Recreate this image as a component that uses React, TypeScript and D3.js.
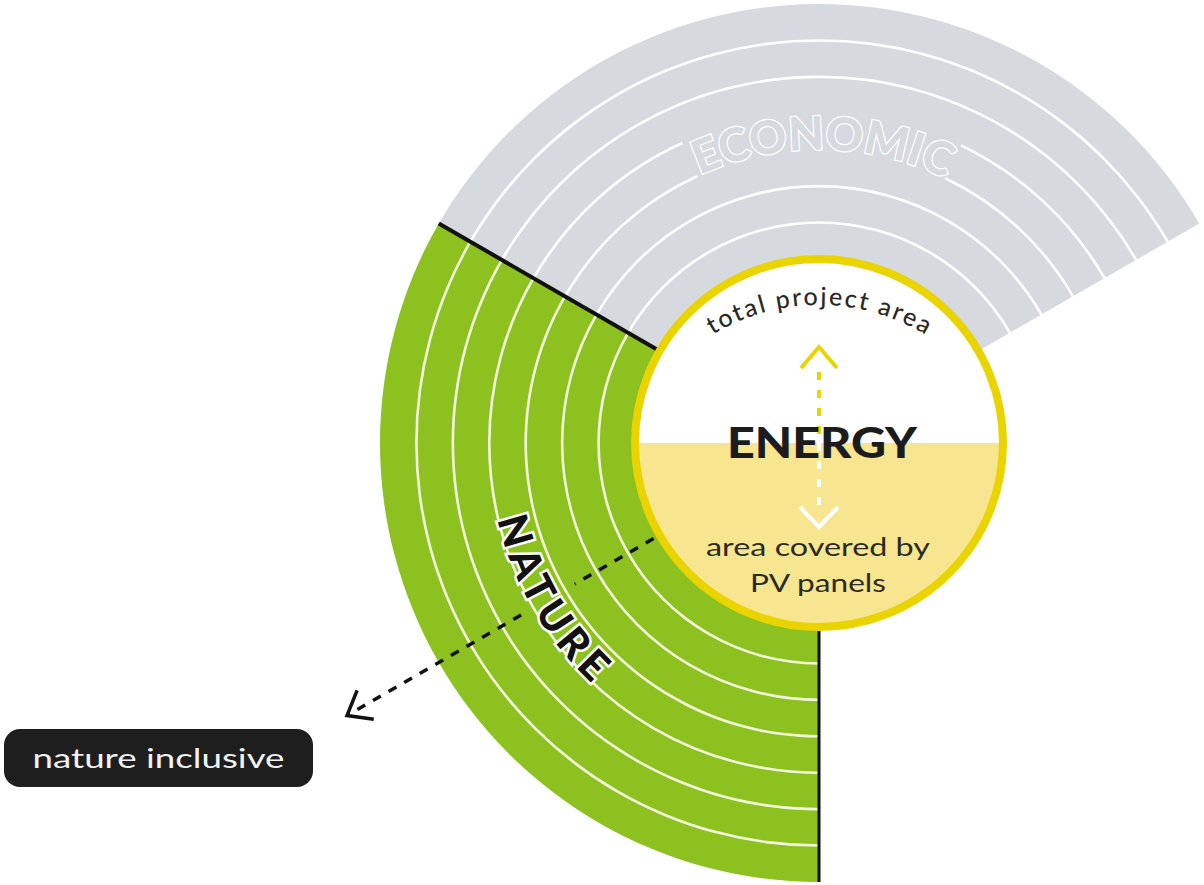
import React from "react";
import * as d3 from "d3";

const WIDTH = 1204;
const HEIGHT = 885;

// ---- data ----
const sectorNames = ["ECONOMIC", "NATURE"];
const sectorStartDeg = [-60, 180];
const sectorEndDeg = [60, 300];
const ringCount = 7;
const ringLines = [1, 2, 3, 4, 5, 6];
const circleTopLabel = "total project area";
const circleTitle = "ENERGY";
const circleBottomLines = ["area covered by", "PV panels"];
const pointerLabel = "nature inclusive";
const pointerDeg = 240;

// ---- layout / style ----
const cx = 819;
const cy = 443;
const innerR = 184;
const outerR = 439;
const GRAY = "#d6d9dd";
const GREEN = "#8cc11f";
const YELLOW = "#ead400";
const PALE = "#f7e58f";
const DARK = "#2b2a22";
const FONT = "Lato, 'Open Sans', sans-serif";

const rad = (d: number) => (d * Math.PI) / 180;
const rScale = d3.scaleLinear().domain([0, ringCount]).range([innerR, outerR]);
const sectorFill: Record<string, string> = { ECONOMIC: GRAY, NATURE: GREEN };
const lineFill: Record<string, string> = { ECONOMIC: "#ffffff", NATURE: "#f3f9dc" };
// angular gap in the ECONOMIC rings around its label
const econGap = [-24.5, 25.5];

function arcPath(r0: number, r1: number, a0: number, a1: number) {
  return d3.arc()({ innerRadius: r0, outerRadius: r1, startAngle: rad(a0), endAngle: rad(a1) }) as string;
}

// text path along circle; d3 angles (0 = up, clockwise)
function circlePath(x: number, y: number, r: number, a0: number, a1: number, ccw: boolean) {
  const p = d3.path();
  const s = d3.pointRadial(rad(a0), r);
  p.moveTo(x + s[0], y + s[1]);
  p.arc(x, y, r, rad(a0) - Math.PI / 2, rad(a1) - Math.PI / 2, ccw);
  return p.toString();
}

export default function App() {
  const sectors = sectorNames.map((name, i) => ({
    name,
    a0: sectorStartDeg[i],
    a1: sectorEndDeg[i],
  }));

  const ringArcs: { d: string; fill: string }[] = [];
  sectors.forEach((s) => {
    ringLines.forEach((k) => {
      const r = rScale(k);
      const segs: [number, number][] =
        s.name === "ECONOMIC" && (k === 3 || k === 4)
          ? [
              [s.a0, econGap[0]],
              [econGap[1], s.a1],
            ]
          : [[s.a0, s.a1]];
      segs.forEach(([a, b]) => {
        ringArcs.push({ d: arcPath(r - 1.3, r + 1.3, a, b), fill: lineFill[s.name] });
      });
    });
  });

  const edge = (deg: number) => {
    const p0 = d3.pointRadial(rad(deg), innerR);
    const p1 = d3.pointRadial(rad(deg), outerR);
    return { x1: cx + p0[0], y1: cy + p0[1], x2: cx + p1[0], y2: cy + p1[1] };
  };
  const natureEdgeTop = edge(sectorEndDeg[1]);
  const natureEdgeBottom = edge(sectorStartDeg[1]);

  // pointer (dashed arrow)
  const pr = (r: number) => {
    const p = d3.pointRadial(rad(pointerDeg), r);
    return [cx + p[0], cy + p[1]];
  };
  const dashSegs = [
    [191, 282],
    [344, 543],
  ].map(([a, b]) => {
    const p0 = pr(a);
    const p1 = pr(b);
    return { x1: p0[0], y1: p0[1], x2: p1[0], y2: p1[1] };
  });
  const apex = pr(545);
  const backDir = rad(pointerDeg) + Math.PI; // direction toward center (d3 angle)
  const arm = (off: number) => {
    const p = d3.pointRadial(backDir + rad(off), 27);
    return [apex[0] + p[0], apex[1] + p[1]];
  };
  const armA = arm(38);
  const armB = arm(-38);

  const econPath = circlePath(cx, cy, rScale(3), -80, 80, false);
  const naturePath = circlePath(cx, cy, rScale(4) + 1, 320, 160, true);
  const topLabelPath = circlePath(cx, 510, 205, -75, 75, false);

  return (
    <svg
      width={WIDTH}
      height={HEIGHT}
      style={{ position: "absolute", left: 0, top: 0, background: "#fff" }}
    >
      <defs>
        <path id="econPath" d={econPath} />
        <path id="naturePath" d={naturePath} />
        <path id="topLabelPath" d={topLabelPath} />
      </defs>
      <g transform={`translate(${cx},${cy})`}>
        {sectors.map((s) => (
          <path key={s.name} d={arcPath(innerR - 6, outerR, s.a0, s.a1)} fill={sectorFill[s.name]} />
        ))}
        {ringArcs.map((a, i) => (
          <path key={i} d={a.d} fill={a.fill} />
        ))}
      </g>

      {/* ECONOMIC label */}
      <text
        fontFamily={FONT}
        fontWeight={900}
        fontSize={46}
        fill={GRAY}
        stroke="#ffffff"
        strokeWidth={2.6}
        style={{ paintOrder: "stroke" }}
      >
        <textPath href="#econPath" startOffset="50.5%" textAnchor="middle" textLength={254} lengthAdjust="spacing">
          {sectorNames[0]}
        </textPath>
      </text>

      {/* black edges */}
      <line {...natureEdgeTop} stroke="#111" strokeWidth={4} />
      <line {...natureEdgeBottom} stroke="#111" strokeWidth={3} />

      {/* dashed pointer */}
      {dashSegs.map((s, i) => (
        <line key={i} {...s} stroke="#111" strokeWidth={3.5} strokeDasharray="9 9" />
      ))}
      <polyline
        points={`${armA[0]},${armA[1]} ${apex[0]},${apex[1]} ${armB[0]},${armB[1]}`}
        fill="none"
        stroke="#111"
        strokeWidth={3.5}
        strokeLinejoin="miter"
      />

      {/* NATURE label */}
      <text
        fontFamily={FONT}
        fontWeight={900}
        fontSize={41}
        fill="#111"
        stroke="#ffffff"
        strokeWidth={5}
        style={{ paintOrder: "stroke" }}
      >
        <textPath href="#naturePath" startOffset="50%" textAnchor="middle" textLength={192} lengthAdjust="spacing">
          {sectorNames[1]}
        </textPath>
      </text>

      {/* central circle */}
      <circle cx={cx} cy={cy} r={innerR} fill="#ffffff" />
      <path transform={`translate(${cx},${cy})`} d={arcPath(0, innerR, 90, 270)} fill={PALE} />
      <circle cx={cx} cy={cy} r={innerR} fill="none" stroke={YELLOW} strokeWidth={8} />

      {/* vertical double arrow */}
      <line x1={cx} y1={372} x2={cx} y2={cy} stroke={YELLOW} strokeWidth={4} strokeDasharray="8 10" />
      <line x1={cx} y1={cy} x2={cx} y2={505} stroke="#ffffff" strokeWidth={4} strokeDasharray="8 10" />
      <polyline
        points={`${cx - 18},368 ${cx},347 ${cx + 18},368`}
        fill="none"
        stroke={YELLOW}
        strokeWidth={4}
      />
      <polyline
        points={`${cx - 19},507 ${cx},527 ${cx + 19},507`}
        fill="none"
        stroke="#ffffff"
        strokeWidth={4}
      />

      <text fontFamily={FONT} fontSize={25} fontWeight={500} fill={DARK}>
        <textPath href="#topLabelPath" startOffset="50%" textAnchor="middle" textLength={224} lengthAdjust="spacing">
          {circleTopLabel}
        </textPath>
      </text>

      <text
        x={822}
        y={458}
        textAnchor="middle"
        fontFamily={FONT}
        fontWeight={900}
        fontSize={42}
        fill="#1c1c1c"
        textLength={190}
        lengthAdjust="spacingAndGlyphs"
      >
        {circleTitle}
      </text>
      {circleBottomLines.map((t, i) => (
        <text
          key={t}
          x={818}
          y={556 + i * 36}
          textAnchor="middle"
          fontFamily={FONT}
          fontSize={25}
          fill={DARK}
          textLength={i === 0 ? 224 : 136}
          lengthAdjust="spacingAndGlyphs"
        >
          {t}
        </text>
      ))}

      {/* nature inclusive label */}
      <rect x={4} y={729} width={309} height={58} rx={16} fill="#1e1e1e" />
      <text
        x={158.5}
        y={768}
        textAnchor="middle"
        fontFamily={FONT}
        fontSize={26}
        fill="#f2f2f2"
        textLength={252}
        lengthAdjust="spacingAndGlyphs"
      >
        {pointerLabel}
      </text>
    </svg>
  );
}
